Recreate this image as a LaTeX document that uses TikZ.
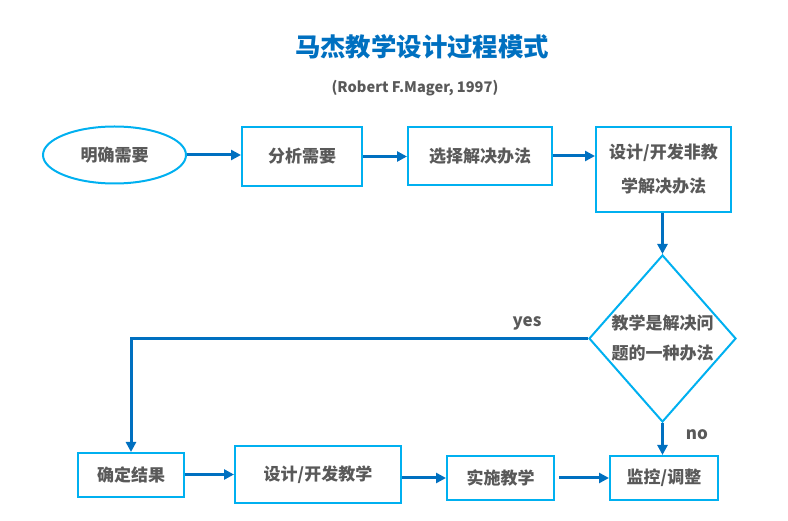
\documentclass[tikz,border=0pt]{standalone}
\usepackage{fontspec}
\setmainfont{Noto Sans CJK SC}
\usetikzlibrary{shapes.geometric,arrows.meta}

\definecolor{boxblue}{RGB}{0,176,240}
\definecolor{arrowblue}{RGB}{0,112,192}
\definecolor{textgray}{RGB}{89,89,89}

\tikzset{
  procbox/.style={draw=boxblue, line width=2pt, inner sep=0pt, align=center,
                  text=textgray, font=\fontsize{17}{34}\selectfont\bfseries},
  flowarrow/.style={draw=arrowblue, line width=3pt,
                    -{Triangle[length=10pt,width=10pt]}},
  branchlabel/.style={text=textgray, font=\fontsize{17}{20}\selectfont\bfseries}
}

\begin{document}
\begin{tikzpicture}[x=1pt,y=-1pt]
        % 1. AREA
        \useasboundingbox (0,0) rectangle (788,521);

        % ==========================================
        % 2. TITLE
        % ==========================================
        \node[text=arrowblue, font=\fontsize{25.4}{28}\selectfont\bfseries] (title) at (422,47) {马杰教学设计过程模式};
        \node[text=textgray, font=\fontsize{14.6}{16}\selectfont\bfseries] (source) at (415,88) {(Robert F.Mager, 1997)};

        % ==========================================
        % 3. TOP ROW
        % ==========================================
        \node[procbox, ellipse, minimum width=143pt, minimum height=57pt] (need) at (114.5,155) {明确需要};
        \node[procbox, minimum width=120pt, minimum height=59pt] (analyse) at (302,156.5) {分析需要};
        \node[procbox, minimum width=144pt, minimum height=58pt] (select) at (480,156) {选择解决办法};
        \node[procbox, minimum width=135pt, minimum height=85pt] (noninstr) at (663.5,169.5) {设计/开发非教\\学解决办法};

        % ==========================================
        % 4. DECISION
        % ==========================================
        \node[procbox, diamond, aspect=0.88, minimum width=147pt, minimum height=167pt,
              font=\fontsize{17}{30}\selectfont\bfseries] (decide) at (662.5,338.5) {教学是解决问\\题的一种办法};

        % ==========================================
        % 5. BOTTOM ROW
        % ==========================================
        \node[procbox, minimum width=106pt, minimum height=44pt] (result) at (131,475) {确定结果};
        \node[procbox, minimum width=166pt, minimum height=57pt] (instr) at (318,474.5) {设计/开发教学};
        \node[procbox, minimum width=107pt, minimum height=44pt] (implement) at (500.5,478) {实施教学};
        \node[procbox, minimum width=108pt, minimum height=44pt] (monitor) at (664,478) {监控/调整};

        % ==========================================
        % 6. CONNECTORS
        % ==========================================
        \draw[flowarrow] (need.east) -- (need.east -| analyse.west);
        \draw[flowarrow] (analyse.east) -- (analyse.east -| select.west);
        \draw[flowarrow] (select.east) -- (select.east -| noninstr.west);
        \draw[flowarrow] (noninstr.south -| decide.north) -- (decide.north);
        \draw[flowarrow] (decide.west) -| (result.north);
        \draw[flowarrow] (decide.south) -- (decide.south |- monitor.north);
        \draw[flowarrow] (result.east |- instr.center) -- (instr.west);
        \draw[flowarrow] (instr.east |- implement.center) -- (implement.west);
        \draw[flowarrow, shorten <=4pt] (implement.east) -- (monitor.west);

        % Branch labels
        \node[branchlabel] (yes) at (527,323) {yes};
        \node[branchlabel] (no) at (697,435) {no};
\end{tikzpicture}
\end{document}
